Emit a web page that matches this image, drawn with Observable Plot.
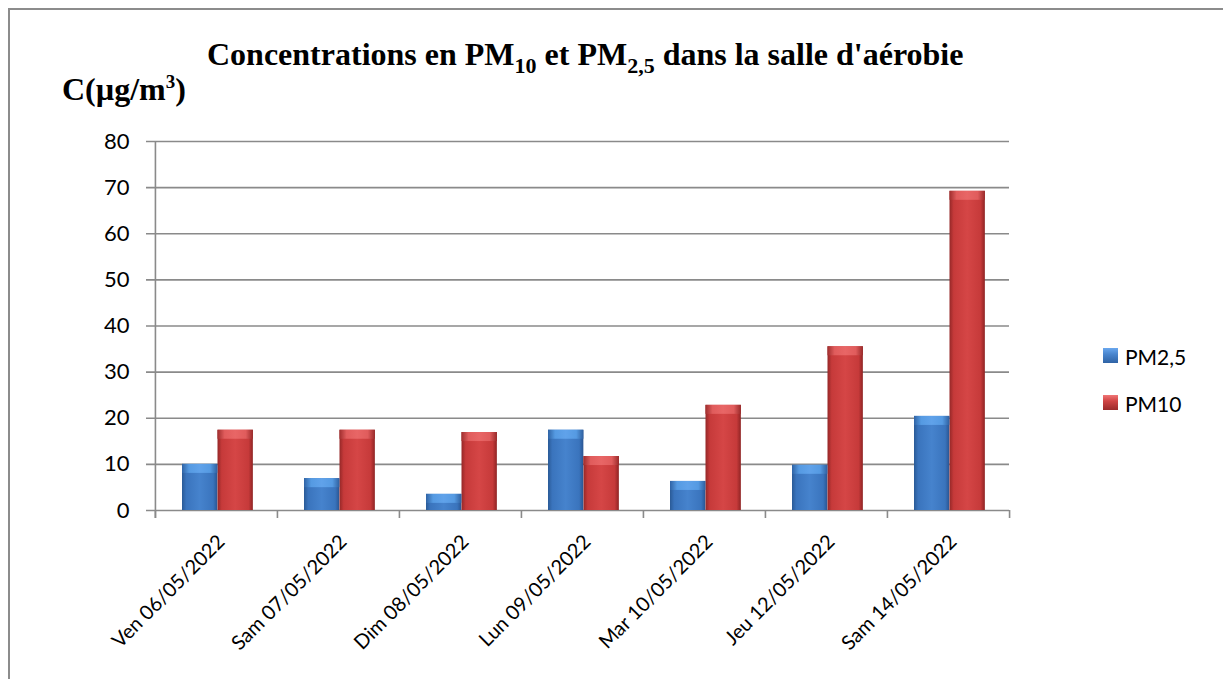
<!DOCTYPE html>
<html>
<head>
<meta charset="utf-8">
<script src="https://cdn.jsdelivr.net/npm/d3@7"></script>
<script src="https://cdn.jsdelivr.net/npm/@observablehq/plot@0.6"></script>
<style>
  html, body { margin: 0; padding: 0; background: #fff; }
  body { width: 1223px; height: 679px; overflow: hidden; position: relative; }
  #frame { position: absolute; left: 8px; top: 8px; width: 1400px; height: 900px; border: 2px solid #8c8c8c; box-sizing: border-box; }
  #chart { position: absolute; left: 0; top: 0; }
  .serif { font-family: "Liberation Serif", "Times New Roman", serif; font-weight: bold; color: #000; position: absolute; white-space: nowrap; }
  #title { left: 207px; top: 38px; font-size: 32px; line-height: 32px; }
  #ylab { left: 62px; top: 73px; font-size: 32px; line-height: 32px; }
  .sub { font-size: 22px; position: relative; top: 8px; }
  .sup { font-size: 19px; position: relative; top: -12px; }
  .leg { position: absolute; font-family: Lato, sans-serif; font-size: 21px; line-height: 21px; color: #000; }
  .sw { position: absolute; width: 15px; height: 15px; box-sizing: border-box; }
</style>
</head>
<body>
<div id="frame"></div>
<div id="chart"></div>
<div id="title" class="serif">Concentrations en PM<span class="sub">10</span> et PM<span class="sub">2,5</span> dans la salle d'aérobie</div>
<div id="ylab" class="serif">C(µg/m<span class="sup">3</span>)</div>
<div id="legend"></div>
<script>
// ---- data ----
const dates = ["Ven 06/05/2022", "Sam 07/05/2022", "Dim 08/05/2022", "Lun 09/05/2022", "Mar 10/05/2022", "Jeu 12/05/2022", "Sam 14/05/2022"];
const seriesNames = ["PM2,5", "PM10"];
const pm25 = [10.0, 6.9, 3.5, 17.4, 6.3, 9.8, 20.4];
const pm10 = [17.4, 17.4, 16.9, 11.7, 22.8, 35.5, 69.2];
const yTicks = [0, 10, 20, 30, 40, 50, 60, 70, 80];

// ---- layout ----
const W = 1223, H = 679;
const mL = 154, mR = 214, mT = 141, mB = 169;
const step = (W - mL - mR) / dates.length;
const barW = 35.5, gap0 = 27;
const plotH = H - mT - mB;
const gridColor = "#8a8a8a";

const rows25 = dates.map((d, i) => ({date: d, series: seriesNames[0], value: pm25[i]}));
const rows10 = dates.map((d, i) => ({date: d, series: seriesNames[1], value: pm10[i]}));

const inset25 = {insetLeft: gap0, insetRight: step - gap0 - barW};
const inset10 = {insetLeft: gap0 + barW, insetRight: step - gap0 - 2 * barW};

const chart = Plot.plot({
  width: W, height: H,
  marginLeft: mL, marginRight: mR, marginTop: mT, marginBottom: mB,
  style: {fontFamily: "Lato, sans-serif", fontSize: "21px", background: "transparent", color: "#000"},
  x: {domain: dates, padding: 0, label: null},
  y: {domain: [0, 80], label: null},
  marks: [
    Plot.ruleY(yTicks, {y: d => d, stroke: gridColor, strokeWidth: 1.6, insetLeft: -8}),
    Plot.ruleX([dates[0]], {x: d => d, dx: -step / 2, stroke: gridColor, strokeWidth: 1.6, insetBottom: -8}),
    Plot.ruleX(dates, {x: d => d, dx: -step / 2, stroke: gridColor, strokeWidth: 1.6, insetTop: plotH, insetBottom: -8}),
    Plot.ruleX([dates[dates.length - 1]], {x: d => d, dx: step / 2, stroke: gridColor, strokeWidth: 1.6, insetTop: plotH, insetBottom: -8}),
    Plot.barY(rows25, {x: "date", y: "value", fill: "url(#gBlue)", ...inset25}),
    Plot.barY(rows10, {x: "date", y: "value", fill: "url(#gRed)", ...inset10}),
    Plot.barY(rows25, {x: "date", y1: "value", y2: "value", insetBottom: -9, fill: "url(#gBlueTop)", ...inset25}),
    Plot.barY(rows10, {x: "date", y1: "value", y2: "value", insetBottom: -9, fill: "url(#gRedTop)", ...inset10}),
    Plot.axisY(yTicks, {tickSize: 0, tickPadding: 25, fontSize: 22, label: null}),
    Plot.axisX({tickSize: 0, tickRotate: -45, tickPadding: 28, dx: 5, fontSize: 20, label: null})
  ]
});

// gradients
const svg = d3.select(chart);
const defs = svg.insert("defs", ":first-child");
function grad(id, stops) {
  const g = defs.append("linearGradient").attr("id", id).attr("x1", "0").attr("x2", "1").attr("y1", "0").attr("y2", "0");
  stops.forEach(([o, c]) => g.append("stop").attr("offset", o).attr("stop-color", c));
}
grad("gBlue", [["0", "#2a5a96"], ["0.12", "#3a74bd"], ["0.5", "#4683cd"], ["0.88", "#3a74bd"], ["1", "#2a5592"]]);
grad("gRed", [["0", "#952828"], ["0.12", "#c63a3a"], ["0.5", "#d54646"], ["0.88", "#c63a3a"], ["1", "#8f2424"]]);
grad("gBlueTop", [["0", "#2f63a5"], ["0.2", "#559ae2"], ["0.5", "#60a2ea"], ["0.8", "#559ae2"], ["1", "#2f60a0"]]);
grad("gRedTop", [["0", "#a02e2e"], ["0.2", "#e05c5c"], ["0.5", "#e86666"], ["0.8", "#e05c5c"], ["1", "#9a2a2a"]]);

document.getElementById("chart").appendChild(chart);

// legend
const legendColors = [
  "linear-gradient(180deg, #6aa7ee 0%, #4a86cf 40%, #2f63a5 100%)",
  "linear-gradient(180deg, #f07676 0%, #d04444 40%, #9a2a2a 100%)"
];
const legend = document.getElementById("legend");
seriesNames.forEach((name, i) => {
  const top = 348 + i * 47;
  const sw = document.createElement("div");
  sw.className = "sw";
  sw.style.left = "1103px";
  sw.style.top = top + "px";
  sw.style.background = legendColors[i];
  legend.appendChild(sw);
  const t = document.createElement("div");
  t.className = "leg";
  t.style.left = "1125px";
  t.style.top = (top - 2) + "px";
  t.textContent = name;
  legend.appendChild(t);
});
</script>
</body>
</html>
